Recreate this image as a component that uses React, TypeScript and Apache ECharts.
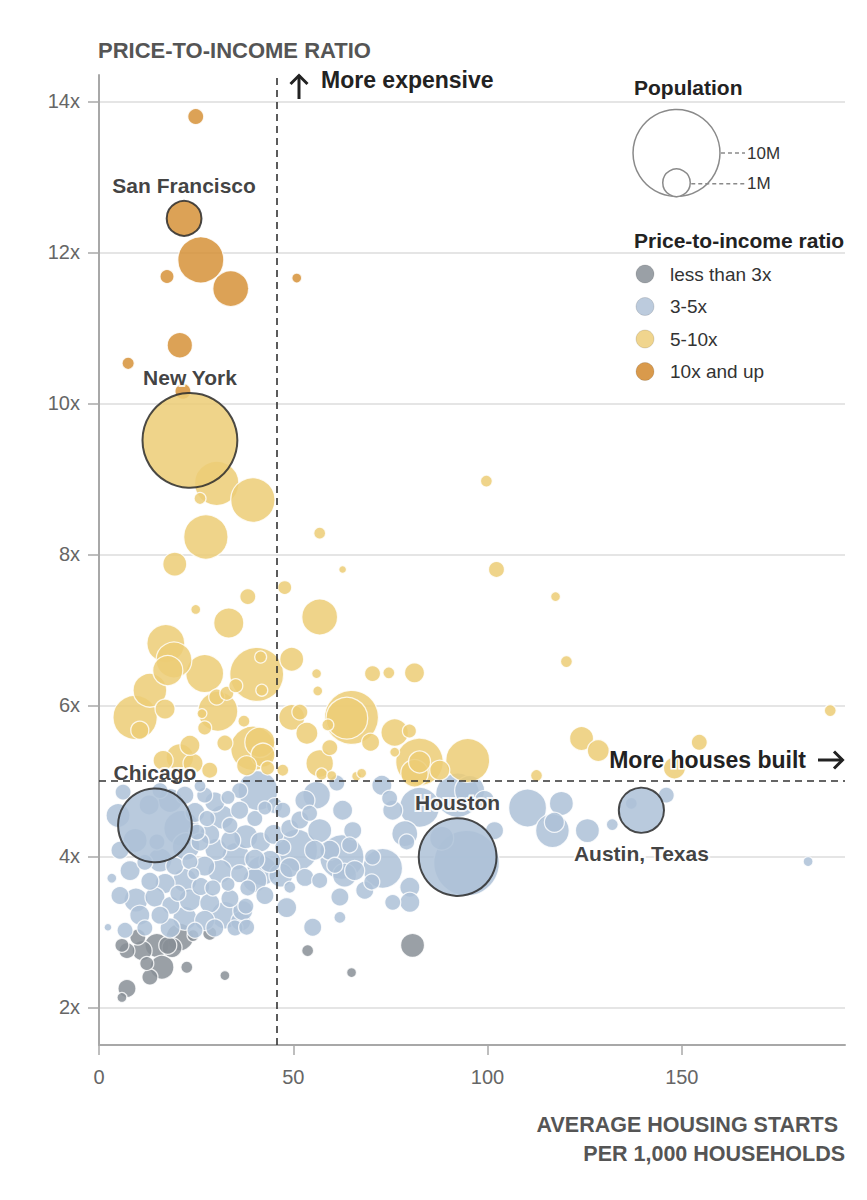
import React, { useEffect, useRef } from "react";
import * as echarts from "echarts";

// Each point: [average housing starts per 1,000 households, price-to-income ratio, population (millions)]
const lessThan3: number[][] = [
  [5.9, 2.82, 0.26], [7.2, 2.75, 0.34], [10.0, 2.93, 0.34], [11.1, 2.75, 0.53], [14.9, 2.82, 0.76],
  [17.7, 2.82, 0.43], [20.8, 2.93, 1.0], [18.8, 2.79, 0.53], [24.2, 2.95, 0.19], [28.5, 2.98, 0.26],
  [12.3, 2.58, 0.26], [16.2, 2.53, 0.76], [13.1, 2.4, 0.34], [22.6, 2.53, 0.19], [32.4, 2.42, 0.13],
  [7.2, 2.25, 0.43], [5.9, 2.13, 0.13], [80.7, 2.82, 0.76], [53.7, 2.75, 0.19], [65.0, 2.46, 0.13],
];

const from3to5: number[][] = [
  [6.2, 4.85, 0.34], [3.3, 3.71, 0.13], [2.3, 3.06, 0.08], [15.7, 4.87, 0.34], [22.1, 4.81, 0.43],
  [27.2, 4.81, 0.34], [29.8, 4.72, 0.53], [36.2, 4.87, 0.34], [26.0, 4.93, 0.19], [33.2, 4.78, 0.26],
  [24.7, 4.58, 0.53], [27.8, 4.5, 0.34], [31.6, 4.52, 0.76], [36.2, 4.61, 0.43], [40.1, 4.5, 0.34],
  [42.7, 4.64, 0.26], [25.2, 4.32, 0.34], [28.5, 4.29, 0.53], [21.3, 4.37, 1.7], [22.4, 4.13, 1.0],
  [26.0, 4.19, 0.43], [30.1, 4.09, 0.64], [33.9, 4.21, 0.53], [37.8, 4.26, 0.76], [41.6, 4.19, 0.53],
  [45.0, 4.29, 0.53], [35.2, 4.0, 1.0], [40.1, 3.96, 0.53], [44.0, 3.93, 0.64], [8.0, 3.81, 0.53],
  [11.8, 3.92, 0.34], [15.7, 3.95, 0.76], [19.5, 3.87, 0.43], [23.4, 3.93, 0.34], [27.2, 3.87, 0.53],
  [31.1, 3.8, 0.76], [36.2, 3.77, 0.43], [41.9, 3.81, 1.2], [46.8, 3.75, 0.76], [13.1, 3.67, 0.43],
  [17.0, 3.64, 0.53], [22.1, 3.68, 0.76], [26.2, 3.6, 0.43], [5.4, 3.48, 0.43], [9.5, 3.42, 0.76],
  [14.4, 3.46, 0.53], [18.5, 3.35, 0.43], [23.4, 3.42, 0.64], [28.5, 3.38, 0.53], [33.7, 3.44, 0.43],
  [37.8, 3.34, 0.34], [10.5, 3.22, 0.53], [15.7, 3.22, 0.43], [22.1, 3.18, 0.76], [27.2, 3.15, 0.53],
  [32.4, 3.22, 1.0], [36.5, 3.14, 0.53], [6.7, 3.02, 0.34], [11.8, 3.05, 0.34], [18.3, 3.05, 0.53],
  [24.7, 3.02, 0.34], [29.8, 3.05, 0.43], [35.0, 3.05, 0.34], [12.9, 4.68, 0.53], [9.3, 4.21, 0.76],
  [18.3, 4.74, 0.76], [33.7, 4.41, 0.34], [40.1, 3.68, 0.76], [42.7, 3.48, 0.43], [20.3, 3.51, 0.34],
  [29.3, 3.58, 0.34], [38.3, 3.58, 0.34], [24.4, 3.77, 0.19], [33.2, 3.63, 0.26], [14.9, 4.19, 0.34],
  [5.4, 4.08, 0.43], [4.9, 4.54, 0.76],
  [40.9, 4.87, 2.1], [45.2, 4.67, 0.34], [47.3, 4.61, 0.34], [49.1, 4.37, 0.43], [47.3, 4.12, 0.34],
  [50.9, 4.08, 2.3], [49.1, 3.85, 0.53], [53.0, 3.72, 0.43], [49.1, 3.59, 0.19], [48.3, 3.32, 0.53],
  [38.0, 3.06, 0.34], [37.0, 3.28, 0.53], [56.0, 4.81, 1.0], [54.2, 4.57, 0.34], [61.2, 4.97, 0.34],
  [62.7, 4.61, 0.53], [65.3, 4.34, 0.43], [62.5, 3.99, 2.6], [59.4, 4.08, 0.53], [64.5, 4.15, 0.34],
  [60.7, 3.88, 0.34], [65.8, 3.81, 0.53], [62.0, 3.46, 0.43], [62.0, 3.19, 0.19], [55.0, 3.06, 0.43],
  [56.8, 3.68, 0.34], [70.4, 3.99, 0.34], [70.2, 3.66, 0.34], [73.0, 3.84, 2.1], [72.8, 4.94, 0.53],
  [74.8, 4.77, 0.34], [75.6, 4.61, 0.53], [78.7, 4.3, 0.89], [79.2, 4.19, 0.34], [82.5, 4.65, 2.1],
  [80.0, 3.59, 0.53], [75.6, 3.39, 0.34], [80.0, 3.39, 0.53], [88.2, 4.24, 0.76], [92.3, 4.81, 2.6],
  [95.4, 4.87, 1.2], [99.2, 4.74, 0.53], [94.6, 3.91, 5.7], [101.8, 4.34, 0.43], [53.0, 4.74, 0.53],
  [51.7, 4.48, 0.43], [56.8, 4.34, 0.76], [55.5, 4.08, 0.53], [63.2, 3.75, 0.76], [68.4, 3.55, 0.43],
  [110.3, 4.64, 1.9], [119.0, 4.7, 0.76], [117.2, 4.45, 0.53], [116.7, 4.34, 1.5], [125.7, 4.34, 0.76],
  [132.1, 4.42, 0.19], [146.0, 4.81, 0.34], [137.0, 4.7, 0.19], [182.5, 3.93, 0.13],
];

const from5to10: number[][] = [
  [30.3, 8.94, 2.6], [39.6, 8.72, 2.6], [26.0, 8.74, 0.19], [27.5, 8.23, 2.6], [19.5, 7.87, 0.76],
  [56.8, 8.28, 0.19], [99.7, 8.97, 0.19], [102.3, 7.8, 0.34], [62.7, 7.8, 0.08], [117.5, 7.44, 0.13],
  [120.3, 6.58, 0.19], [47.8, 7.56, 0.26], [56.8, 7.17, 1.7], [38.3, 7.44, 0.34], [33.4, 7.09, 1.2],
  [24.9, 7.27, 0.13], [17.2, 6.82, 1.9], [17.7, 6.46, 1.2], [19.3, 6.6, 1.7], [27.2, 6.42, 1.9],
  [40.6, 6.41, 3.85], [41.6, 6.64, 0.19], [41.9, 6.2, 0.19], [49.6, 6.61, 0.76], [56.0, 6.42, 0.13],
  [56.3, 6.19, 0.13], [13.1, 6.2, 1.5], [9.3, 5.84, 2.6], [10.5, 5.67, 0.43], [17.0, 5.95, 0.53],
  [30.6, 5.92, 2.1], [30.3, 6.11, 0.34], [32.9, 6.16, 0.26], [35.2, 6.26, 0.26], [26.5, 5.89, 0.13],
  [37.3, 5.79, 0.19], [39.6, 5.43, 2.6], [41.4, 5.51, 1.2], [42.2, 5.34, 0.76], [49.6, 5.84, 0.89],
  [51.7, 5.91, 0.34], [53.5, 5.63, 0.64], [58.9, 5.74, 0.19], [56.8, 5.23, 1.0], [20.8, 5.31, 1.0],
  [24.2, 5.23, 0.53], [16.5, 5.27, 0.53], [28.5, 5.14, 0.34], [70.4, 6.42, 0.34], [74.6, 6.43, 0.19],
  [81.2, 6.43, 0.53], [65.0, 5.84, 3.85], [63.8, 5.83, 2.3], [69.9, 5.51, 0.43], [59.4, 5.44, 0.34],
  [76.1, 5.64, 1.0], [79.9, 5.66, 0.26], [76.1, 5.38, 0.13], [82.5, 5.25, 3.0], [82.5, 5.25, 0.64],
  [94.9, 5.27, 2.55], [57.3, 5.09, 0.19], [59.9, 5.07, 0.13], [66.3, 5.06, 0.13], [67.6, 5.1, 0.13],
  [112.6, 5.07, 0.19], [188.2, 5.93, 0.19], [124.2, 5.56, 0.76], [128.5, 5.4, 0.64], [154.5, 5.51, 0.34],
  [148.1, 5.17, 0.64], [81.2, 5.1, 1.0], [87.7, 5.14, 0.53], [43.4, 5.17, 0.26], [47.3, 5.14, 0.19],
  [38.0, 5.2, 0.53], [23.4, 5.47, 0.53], [32.4, 5.5, 0.34], [27.2, 5.7, 0.26],
];

const over10: number[][] = [
  [24.9, 13.8, 0.34], [26.2, 11.9, 2.8], [17.5, 11.68, 0.26], [33.9, 11.52, 1.7],
  [20.8, 10.77, 0.85], [7.5, 10.53, 0.2], [21.6, 10.16, 0.34], [50.9, 11.66, 0.13],
];

// Labelled metros: [name, housing starts, ratio, population (millions), label side]
const cities: [string, number, number, number, string][] = [
  ["San Francisco", 21.9, 12.45, 1.6, "top"],
  ["New York", 23.4, 9.51, 11.9, "top"],
  ["Chicago", 14.4, 4.41, 7.2, "top"],
  ["Houston", 92.3, 3.99, 8.0, "top"],
  ["Austin, Texas", 139.6, 4.61, 2.7, "bottom"],
];

const categories = ["less than 3x", "3-5x", "5-10x", "10x and up"];
const categoryData = [lessThan3, from3to5, from5to10, over10];
const categoryBreaks = [3, 5, 10];

const yTicks = [2, 4, 6, 8, 10, 12, 14];
const xTicks = [0, 50, 100, 150];
const popLegend = [10, 1];
const popLegendLabels = ["10M", "1M"];

const expensiveThreshold = 45.8;
const ratioThreshold = 5;

const FILLS = ["rgb(136,143,150)", "rgb(173,193,215)", "rgb(236,204,118)", "rgb(214,146,56)"];
const SOLID = ["#9aa0a6", "#bccbdd", "#f0d58e", "#d99a4c"];
const FONT = '"Liberation Sans", Arial, sans-serif';

const sizeOf = (pop: number) => 27.5 * Math.sqrt(pop);
const catOf = (y: number) => {
  let i = 0;
  while (i < categoryBreaks.length && y >= categoryBreaks[i]) i++;
  return i;
};

export default function App() {
  const ref = useRef<HTMLDivElement>(null);

  useEffect(() => {
    document.body.style.margin = "0";
    if (!ref.current) return;
    const chart = echarts.init(ref.current, undefined, { renderer: "svg" });

    const bubbleSeries = categoryData.map((d, i) => ({
      type: "scatter",
      name: categories[i],
      z: 2,
      data: [...d].sort((a, b) => b[2] - a[2]),
      symbolSize: (v: number[]) => sizeOf(v[2]),
      itemStyle: {
        color: FILLS[i],
        opacity: 0.85,
        borderColor: "rgba(255,255,255,0.95)",
        borderWidth: 1.3,
      },
      emphasis: { disabled: true },
      silent: true,
    }));

    const highlightSeries = {
      type: "scatter",
      name: "cities",
      z: 3,
      silent: true,
      data: cities.map(([name, x, y, p, pos]) => ({
        name,
        value: [x, y, p],
        itemStyle: { color: FILLS[catOf(y)] },
        label: { position: pos, distance: pos === "bottom" ? 9 : 4 },
      })),
      symbolSize: (v: number[]) => sizeOf(v[2]),
      itemStyle: { opacity: 0.85, borderColor: "#2b2b2b", borderWidth: 2 },
      label: {
        show: true,
        formatter: "{b}",
        fontFamily: FONT,
        fontSize: 21,
        fontWeight: "bold",
        color: "#222",
        textBorderColor: "#fff",
        textBorderWidth: 4,
      },
      emphasis: { disabled: true },
      markLine: {
        silent: true,
        symbol: "none",
        label: { show: false },
        lineStyle: { type: [7, 5], color: "#333", width: 1.6 },
        data: [{ xAxis: expensiveThreshold }, { yAxis: ratioThreshold }],
      },
    };

    const legendGraphics: any[] = [];
    legendGraphics.push({
      type: "text", x: 634, y: 87,
      style: { text: "Population", font: `bold 21px ${FONT}`, fill: "#222", verticalAlign: "middle" },
    });
    const baseY = 196.5;
    popLegend.forEach((p, i) => {
      const r = sizeOf(p) / 2;
      const cy = baseY - r;
      const ly = cy + (i === 1 ? 1 : 0);
      legendGraphics.push({
        type: "circle",
        shape: { cx: 676.5, cy, r },
        style: { fill: "#fff", stroke: "#8a8a8a", lineWidth: 1.5 },
      });
      legendGraphics.push({
        type: "line",
        shape: { x1: 676.5 + r + 1, y1: ly, x2: 745, y2: ly },
        style: { stroke: "#8a8a8a", lineWidth: 1.3, lineDash: [4, 3] },
      });
      legendGraphics.push({
        type: "text", x: 747, y: ly,
        style: { text: popLegendLabels[i], font: `17px ${FONT}`, fill: "#333", verticalAlign: "middle" },
      });
    });
    legendGraphics.push({
      type: "text", x: 634, y: 240,
      style: { text: "Price-to-income ratio", font: `bold 21px ${FONT}`, fill: "#222", verticalAlign: "middle" },
    });
    categories.forEach((c, i) => {
      const cy = 274 + i * 32.5;
      legendGraphics.push({
        type: "circle",
        shape: { cx: 645, cy, r: 9 },
        style: { fill: SOLID[i], stroke: "rgba(0,0,0,0.12)", lineWidth: 1 },
      });
      legendGraphics.push({
        type: "text", x: 670, y: cy,
        style: { text: c, font: `19px ${FONT}`, fill: "#333", verticalAlign: "middle" },
      });
    });

    const arrowStyle = { stroke: "#222", lineWidth: 3, fill: "none", lineJoin: "miter", lineCap: "butt" };

    const option: any = {
      animation: false,
      backgroundColor: "#fff",
      grid: { left: 99, right: 22, top: 75, bottom: 155, containLabel: false },
      xAxis: {
        type: "value",
        min: 0,
        max: 192,
        interval: 50,
        axisLine: { show: true, onZero: false, lineStyle: { color: "#a8a8a8", width: 2 } },
        axisTick: { show: true, customValues: xTicks, length: 10, lineStyle: { color: "#a8a8a8", width: 1.5 } },
        axisLabel: { customValues: xTicks, color: "#666", fontSize: 20, fontFamily: FONT, margin: 22 },
        splitLine: { show: false },
      },
      yAxis: {
        type: "value",
        min: 1.5,
        max: 14.35,
        axisLine: { show: true, onZero: false, lineStyle: { color: "#a8a8a8", width: 2 } },
        axisTick: { show: true, customValues: yTicks, length: 11, lineStyle: { color: "#a8a8a8", width: 1.5 } },
        axisLabel: {
          customValues: yTicks,
          formatter: (v: number) => `${v}x`,
          color: "#666",
          fontSize: 20,
          fontFamily: FONT,
          margin: 19,
        },
        splitLine: { show: true, lineStyle: { color: "#dcdcdc", width: 1.5 } },
      },
      graphic: [
        {
          type: "text", x: 98, y: 50.5,
          style: { text: "PRICE-TO-INCOME RATIO", font: `bold 22px ${FONT}`, fill: "#555", verticalAlign: "middle" },
        },
        { type: "line", z: 10, shape: { x1: 299, y1: 99, x2: 299, y2: 75 }, style: arrowStyle },
        { type: "polyline", z: 10, shape: { points: [[290.5, 84], [299, 75.5], [307.5, 84]] }, style: arrowStyle },
        {
          type: "text", x: 321, y: 80, z: 10,
          style: { text: "More expensive", font: `bold 23px ${FONT}`, fill: "#222", verticalAlign: "middle" },
        },
        {
          type: "text", x: 806, y: 760, z: 10,
          style: {
            text: "More houses built", font: `bold 23px ${FONT}`, fill: "#222",
            align: "right", verticalAlign: "middle", stroke: "#fff", lineWidth: 3,
          },
        },
        { type: "line", z: 10, shape: { x1: 818, y1: 760, x2: 843, y2: 760 }, style: arrowStyle },
        { type: "polyline", z: 10, shape: { points: [[834, 751.5], [842.5, 760], [834, 768.5]] }, style: arrowStyle },
        {
          type: "text", x: 838, y: 1125,
          style: { text: "AVERAGE HOUSING STARTS", font: `bold 21.5px ${FONT}`, fill: "#555", align: "right", verticalAlign: "middle" },
        },
        {
          type: "text", x: 845, y: 1154,
          style: { text: "PER 1,000 HOUSEHOLDS", font: `bold 21.5px ${FONT}`, fill: "#555", align: "right", verticalAlign: "middle" },
        },
        ...legendGraphics,
      ],
      series: [...bubbleSeries, highlightSeries],
    };

    chart.setOption(option);
    return () => chart.dispose();
  }, []);

  return <div ref={ref} style={{ width: 867, height: 1200 }} />;
}
